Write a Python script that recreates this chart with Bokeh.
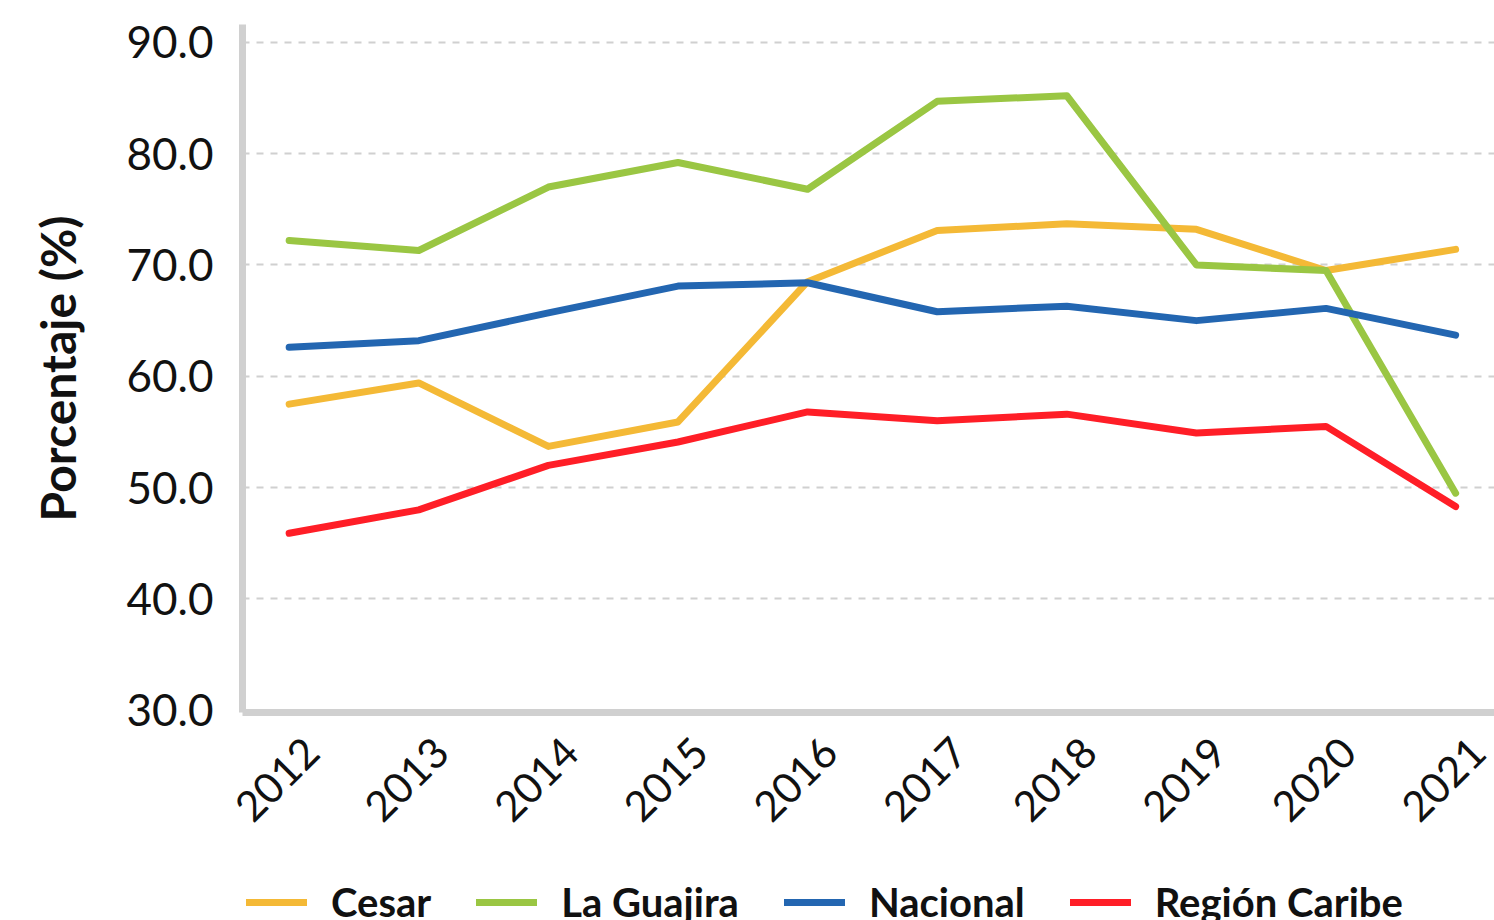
import math
from bokeh.plotting import figure
from bokeh.layouts import column
from bokeh.models import (Range1d, FixedTicker, Legend, LegendItem, LinearAxis,
                          CustomJSTickFormatter)
from bokeh.embed import file_html
from bokeh.resources import INLINE

years = [2012, 2013, 2014, 2015, 2016, 2017, 2018, 2019, 2020, 2021]
cesar = [57.5, 59.4, 53.7, 55.9, 68.5, 73.1, 73.7, 73.2, 69.5, 71.4]
la_guajira = [72.2, 71.3, 77.0, 79.2, 76.8, 84.7, 85.2, 70.0, 69.5, 49.5]
nacional = [62.6, 63.2, 65.7, 68.1, 68.4, 65.8, 66.3, 65.0, 66.1, 63.7]
region_caribe = [45.9, 48.0, 52.0, 54.1, 56.8, 56.0, 56.6, 54.9, 55.5, 48.3]
y_ticks = [30, 40, 50, 60, 70, 80, 90]

series = [
    ("Cesar", cesar, "#F4B936"),
    ("La Guajira", la_guajira, "#9AC643"),
    ("Nacional", nacional, "#2366B1"),
    ("Región Caribe", region_caribe, "#FF1E27"),
]

FONT = "Lato"
X0, X1 = 2011.64, 2021.30
LABEL_SHIFT = 0.17  # years: moves rotated year labels to the right

p = figure(frame_width=1252, frame_height=688,
           output_backend="svg", toolbar_location=None,
           x_range=Range1d(X0, X1), y_range=Range1d(29.8, 91.6),
           x_axis_location=None,
           min_border_left=242, min_border_right=0, min_border_top=24,
           min_border_bottom=158)
p.outline_line_color = None
p.background_fill_color = "white"
p.border_fill_color = "white"
p.extra_x_ranges = {"lab": Range1d(X0 - LABEL_SHIFT, X1 - LABEL_SHIFT)}

for name, vals, col in series:
    p.line(years, vals, line_color=col, line_width=7, line_cap="round", line_join="round")

xax = LinearAxis(x_range_name="lab", ticker=FixedTicker(ticks=years))
p.add_layout(xax, "below")

p.yaxis.ticker = FixedTicker(ticks=y_ticks)
p.yaxis.formatter = CustomJSTickFormatter(code="return tick.toFixed(1);")

for ax in (xax, p.yaxis[0]):
    ax.axis_line_color = "#D0D0D0"
    ax.axis_line_width = 7
    ax.major_tick_line_color = None
    ax.minor_tick_line_color = None
    ax.major_label_text_font = FONT
    ax.major_label_text_color = "#111111"
    ax.major_label_text_font_size = "44px"

p.yaxis.major_label_standoff = 23
xax.major_label_orientation = math.pi / 4
xax.major_label_standoff = 26
xax.major_label_text_font_size = "42px"

p.yaxis.axis_label = "Porcentaje (%)"
p.yaxis.axis_label_text_font = FONT
p.yaxis.axis_label_text_font_style = "bold"
p.yaxis.axis_label_text_font_size = "48px"
p.yaxis.axis_label_text_color = "#111111"
p.yaxis.axis_label_standoff = 38

for g in p.grid:
    if g.dimension == 0:
        g.visible = False
p.ygrid.grid_line_color = "#D0D0D0"
p.ygrid.grid_line_width = 2
p.ygrid.grid_line_dash = "7 7"

# Legend strip below the chart (its lines lie outside its own range, so only the legend shows)
pl = figure(width=1494, height=50, output_backend="svg", toolbar_location=None,
            x_range=Range1d(0, 1), y_range=Range1d(0, 1),
            x_axis_location=None, y_axis_location=None,
            min_border_left=0, min_border_right=0, min_border_top=0, min_border_bottom=0)
pl.outline_line_color = None
pl.xgrid.visible = False
pl.ygrid.visible = False
items = []
for name, vals, col in series:
    r = pl.line(years, vals, line_color=col, line_width=7, line_cap="round")
    items.append(LegendItem(label=name, renderers=[r]))

legend = Legend(items=items, orientation="horizontal", location=(4, -6),
                glyph_width=61, glyph_height=30, label_standoff=24, spacing=45,
                label_text_font=FONT, label_text_font_size="40px",
                label_text_font_style="bold", label_text_color="#111111",
                border_line_color=None, background_fill_alpha=0,
                padding=0, margin=0)
pl.add_layout(legend, "center")

layout = column(p, pl, spacing=0)
open("out.html", "w").write(file_html(layout, INLINE))
